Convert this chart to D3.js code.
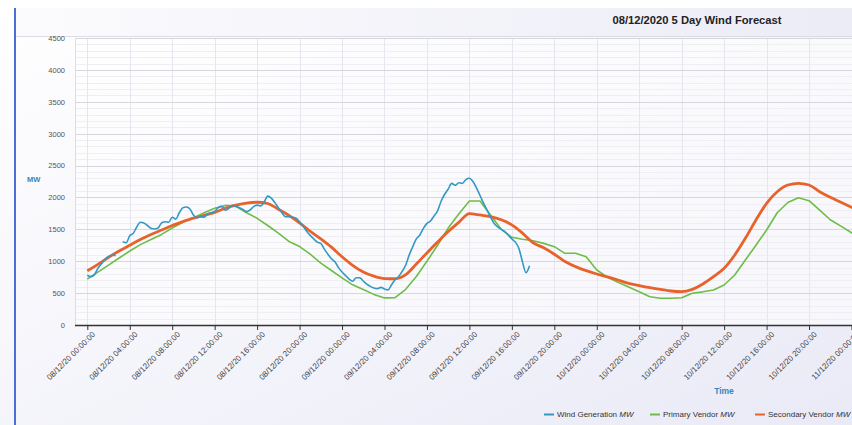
<!DOCTYPE html>
<html><head><meta charset="utf-8">
<script src="https://cdn.jsdelivr.net/npm/d3@7"></script>
<style>html,body{margin:0;padding:0;background:#fff;overflow:hidden}svg{display:block;font-family:"Liberation Sans",Arial,sans-serif}</style>
</head><body><svg id="c" width="852" height="425"></svg>
<script>
// ---------- DATA ----------
const chartTitle = "08/12/2020 5 Day Wind Forecast";
const startTime = "08/12/20 00:00:00";
const xTickLabels = [
  "08/12/20 00:00:00","08/12/20 04:00:00","08/12/20 08:00:00","08/12/20 12:00:00","08/12/20 16:00:00","08/12/20 20:00:00",
  "09/12/20 00:00:00","09/12/20 04:00:00","09/12/20 08:00:00","09/12/20 12:00:00","09/12/20 16:00:00","09/12/20 20:00:00",
  "10/12/20 00:00:00","10/12/20 04:00:00","10/12/20 08:00:00","10/12/20 12:00:00","10/12/20 16:00:00","10/12/20 20:00:00",
  "11/12/20 00:00:00","11/12/20 04:00:00"
];
const yTicks = [0,500,1000,1500,2000,2500,3000,3500,4000,4500];
const seriesNames = ["Wind Generation MW","Primary Vendor MW","Secondary Vendor MW"];
// Wind generation, one value every 20 minutes from start (null = gap)
const windGeneration = [
  780,758,790,890,960,1030,1075,1098,1085,null,
  1306,1290,1400,1437,1541,1610,1600,1560,1516,1505,
  1520,1600,1620,1610,1690,1660,1760,1840,1850,1820,
  1725,1680,1700,1690,1740,1760,1780,1840,1860,1800,
  1829,1875,1860,1840,1810,1777,1803,1855,1880,1866,
  1930,2020,1990,1920,1840,1760,1700,1698,1690,1675,
  1620,1550,1470,1405,1350,1300,1280,1190,1110,1040,
  990,900,830,775,720,685,740,740,690,640,
  605,580,570,590,565,550,630,710,760,840,
  940,1100,1230,1350,1411,1516,1594,1630,1710,1790,
  1940,2050,2130,2220,2190,2230,2220,2280,2300,2250,
  2150,2030,1910,1800,1690,1590,1540,1500,1463,1410,
  1350,1300,1200,990,820,930
];
// Vendor forecasts, one value per hour from start
const primaryVendor = [
  720,830,940,1050,1160,1260,1340,1420,1520,1610,
  1680,1760,1830,1875,1860,1760,1673,1560,1440,1310,
  1230,1110,970,855,740,630,555,480,425,430,
  560,760,1000,1250,1520,1740,1944,1944,1720,1500,
  1375,1345,1320,1280,1228,1124,1124,1071,862,750,
  670,595,522,444,420,420,428,497,520,549,
  627,784,1020,1250,1490,1760,1920,1996,1949,1800,
  1650,1550,1447,1350
];
const secondaryVendor = [
  850,950,1060,1160,1250,1340,1420,1490,1560,1620,
  1675,1720,1765,1830,1880,1910,1925,1905,1815,1720,
  1600,1470,1350,1220,1070,935,830,765,728,725,
  790,955,1130,1300,1465,1610,1745,1725,1700,1650,
  1570,1440,1290,1210,1110,995,915,852,800,755,
  706,653,617,585,559,533,523,559,643,757,
  889,1098,1359,1646,1908,2090,2195,2222,2195,2090,
  2002,1924,1845,1765
];
const seriesColors = ["#3399c4","#6dbd48","#e8622c"];

// ---------- CHART ----------
const W = 852, H = 425;
const plot = {left: 75, top: 38, right: 852, bottom: 325};
const parse = d3.timeParse("%d/%m/%y %H:%M:%S");
const fmt = d3.timeFormat("%d/%m/%y %H:%M:%S");
const t0 = parse(startTime);
const xTickDates = xTickLabels.map(parse);

const x = d3.scaleTime().domain([xTickDates[0], xTickDates[18]]).range([87.3, 851.5]);
const y = d3.scaleLinear().domain([0, 4500]).range([plot.bottom, plot.top]);

const svg = d3.select("#c");
const defs = svg.append("defs");
const bg = defs.append("linearGradient").attr("id","bg").attr("x1",0).attr("y1",0).attr("x2",1).attr("y2",1);
bg.append("stop").attr("offset","0%").attr("stop-color","#ffffff");
bg.append("stop").attr("offset","100%").attr("stop-color","#eaeaf7");
const band = defs.append("linearGradient").attr("id","band").attr("x1",0).attr("y1",0).attr("x2",1).attr("y2",0);
band.append("stop").attr("offset","0%").attr("stop-color","#fbfbfd");
band.append("stop").attr("offset","100%").attr("stop-color","#ececf7");
defs.append("clipPath").attr("id","clip").append("rect")
  .attr("x",plot.left).attr("y",plot.top-2).attr("width",plot.right-plot.left).attr("height",plot.bottom-plot.top+2);

svg.append("rect").attr("width",W).attr("height",H).attr("fill","url(#bg)");
svg.append("rect").attr("x",0).attr("y",0).attr("width",W).attr("height",8).attr("fill","#ffffff");
svg.append("rect").attr("x",16).attr("y",8).attr("width",W-16).attr("height",28).attr("fill","url(#band)");
svg.append("line").attr("x1",16).attr("x2",W).attr("y1",36.5).attr("y2",36.5).attr("stroke","#dcdce6");
svg.append("line").attr("x1",15).attr("x2",15).attr("y1",8).attr("y2",H).attr("stroke","#4b6fd6").attr("stroke-width",2);

// plot background
svg.append("rect").attr("x",plot.left).attr("y",plot.top).attr("width",plot.right-plot.left)
  .attr("height",plot.bottom-plot.top).attr("fill","#ffffff").attr("fill-opacity",0.55);

// minor horizontal grid
const minor = d3.range(0, 4501, 100).filter(v => v % 500 !== 0);
svg.append("g").selectAll("line").data(minor).join("line")
  .attr("x1",plot.left).attr("x2",plot.right).attr("y1",d=>Math.round(y(d))+0.5).attr("y2",d=>Math.round(y(d))+0.5)
  .attr("stroke","#eeeef3").attr("stroke-width",1);
// vertical grid
svg.append("g").selectAll("line").data(xTickDates).join("line")
  .attr("x1",d=>Math.round(x(d))+0.5).attr("x2",d=>Math.round(x(d))+0.5).attr("y1",plot.top).attr("y2",plot.bottom)
  .attr("stroke","#e6e6ee");
// major horizontal grid
svg.append("g").selectAll("line").data(yTicks.filter(v=>v>0)).join("line")
  .attr("x1",plot.left).attr("x2",plot.right).attr("y1",d=>Math.round(y(d))+0.5).attr("y2",d=>Math.round(y(d))+0.5)
  .attr("stroke","#d6d6de");
svg.append("line").attr("x1",plot.left+0.5).attr("x2",plot.left+0.5).attr("y1",plot.top).attr("y2",plot.bottom).attr("stroke","#dcdce4");

// y axis labels
const yAxis = d3.axisLeft(y).tickValues(yTicks).tickSize(0).tickPadding(0).tickFormat(d3.format("d"));
const gy = svg.append("g").attr("transform","translate(65,0)").call(yAxis);
gy.select(".domain").remove();
gy.selectAll("text").attr("font-size","7.5px").attr("fill","#555").attr("font-family","Liberation Sans, Arial, sans-serif");

// x axis
const xAxis = d3.axisBottom(x).tickValues(xTickDates).tickSize(5).tickSizeOuter(0).tickFormat(fmt);
const gx = svg.append("g").attr("transform",`translate(0,${plot.bottom})`).call(xAxis);
gx.select(".domain").remove();
gx.selectAll(".tick line").attr("stroke","#333");
gx.selectAll("text").attr("font-size","8px").attr("fill","#444")
  .attr("font-family","Liberation Sans, Arial, sans-serif")
  .attr("text-anchor","end").attr("dy","0.3em")
  .attr("transform","translate(2,4) rotate(-45)").attr("y",6).attr("x",0);
svg.append("line").attr("x1",plot.left).attr("x2",plot.right).attr("y1",plot.bottom+0.5).attr("y2",plot.bottom+0.5)
  .attr("stroke","#333").attr("stroke-width",1.5);

// lines
const gl = svg.append("g").attr("clip-path","url(#clip)");
const windPts = windGeneration.map((v,i)=>({t:d3.timeMinute.offset(t0,i*20), v}));
const primPts = primaryVendor.map((v,i)=>({t:d3.timeHour.offset(t0,i), v}));
const secPts = secondaryVendor.map((v,i)=>({t:d3.timeHour.offset(t0,i), v}));
const lineGen = c => d3.line().defined(d=>d.v!=null).x(d=>x(d.t)).y(d=>y(d.v)).curve(c);
gl.append("path").datum(primPts).attr("d",lineGen(d3.curveLinear)).attr("fill","none")
  .attr("stroke",seriesColors[1]).attr("stroke-width",1.6).attr("stroke-linejoin","round");
gl.append("path").datum(secPts).attr("d",lineGen(d3.curveMonotoneX)).attr("fill","none")
  .attr("stroke",seriesColors[2]).attr("stroke-width",2.8).attr("stroke-linejoin","round");
gl.append("path").datum(windPts).attr("d",lineGen(d3.curveMonotoneX)).attr("fill","none")
  .attr("stroke",seriesColors[0]).attr("stroke-width",1.6).attr("stroke-linejoin","round");

// titles
svg.append("text").attr("x",697).attr("y",24).attr("text-anchor","middle")
  .attr("font-size","11.2px").attr("font-weight","bold").attr("fill","#222").text(chartTitle);
svg.append("text").attr("x",27).attr("y",182).attr("font-size","7.5px").attr("font-weight","bold")
  .attr("fill","#3a85b8").text("MW");
svg.append("text").attr("x",724).attr("y",394).attr("text-anchor","middle").attr("font-size","8.5px")
  .attr("font-weight","bold").attr("fill","#3a85b8").text("Time");

// legend
const legX = [544, 650, 755];
const lg = svg.append("g");
seriesNames.forEach((name,i)=>{
  const g = lg.append("g").attr("transform",`translate(${legX[i]},414)`);
  g.append("line").attr("x1",0).attr("x2",10).attr("y1",0.5).attr("y2",0.5).attr("stroke",seriesColors[i]).attr("stroke-width",2);
  const parts = name.split(" ");
  const unit = parts.pop();
  const t = g.append("text").attr("x",13).attr("y",3).attr("font-size","8px").attr("fill","#333");
  t.append("tspan").text(parts.join(" ") + " ");
  t.append("tspan").attr("font-style","italic").text(unit);
});
</script></body></html>
